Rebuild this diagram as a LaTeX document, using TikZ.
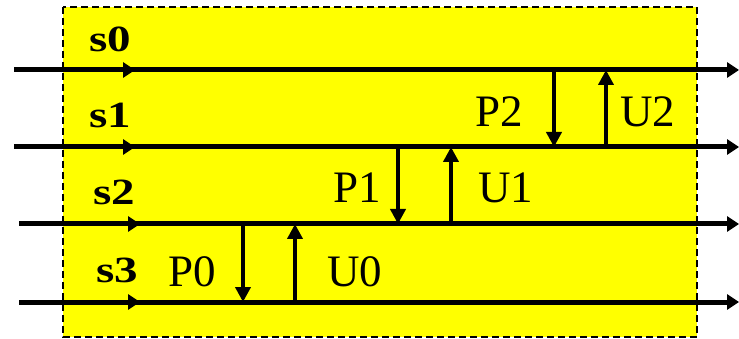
\documentclass[tikz,border=0pt]{standalone}
\usepackage{fontspec}
\setmainfont{Liberation Serif}
\usetikzlibrary{arrows.meta}
\definecolor{panelyellow}{RGB}{255,255,0}
\newcommand{\widelabel}[1]{\scalebox{1.27}[1]{#1}}
\begin{document}
\begin{tikzpicture}[x=1pt,y=-1pt,
  panel/.style={fill=panelyellow,draw=black,line width=1.3pt,dash pattern=on 7pt off 4pt},
  wire/.style={line width=5pt,-{Triangle[length=12pt,width=15pt]}},
  xfer/.style={line width=4pt,-{Triangle[length=15pt,width=15pt]}},
  slabel/.style={anchor=base west,inner sep=0pt,font=\fontsize{37}{42}\selectfont\bfseries},
  oplabel/.style={anchor=base west,inner sep=0pt,font=\fontsize{45}{50}\selectfont}]
\useasboundingbox (0,0) rectangle (739,339);
% shaded stage region
\path[panel] (63,7) rectangle (697,337);
% wire end points and midpoint markers
\foreach \i/\y/\xs/\xm in {0/70/14/135, 1/147/14/135, 2/224/19/140, 3/302/19/140} {
  \coordinate (a\i) at (\xs,\y);
  \coordinate (m\i) at (\xm,\y);
  \coordinate (b\i) at (739,\y);
}
% attachment points of the transfer arrows
\coordinate (p0t) at (243,224); \coordinate (p0b) at (243,302);
\coordinate (u0b) at (295,302); \coordinate (u0t) at (295,224);
\coordinate (p1t) at (398,147); \coordinate (p1b) at (398,224);
\coordinate (u1b) at (451,224); \coordinate (u1t) at (451,147);
\coordinate (p2t) at (554,70);  \coordinate (p2b) at (554,147);
\coordinate (u2b) at (606,147); \coordinate (u2t) at (606,70);
% wires
\foreach \i in {0,1,2,3} {
  \draw[wire] (a\i) -- (b\i);
  \draw[wire] (a\i) -- (m\i);
}
% transfer arrows
\draw[xfer] (p0t) -- (p0b);
\draw[xfer] (u0b) -- (u0t);
\draw[xfer] (p1t) -- (p1b);
\draw[xfer] (u1b) -- (u1t);
\draw[xfer] (p2t) -- (p2b);
\draw[xfer] (u2b) -- (u2t);
% labels
\node[slabel] (s0) at (89,52) {\widelabel{s0}};
\node[slabel] (s1) at (89,128) {\widelabel{s1}};
\node[slabel] (s2) at (93,205) {\widelabel{s2}};
\node[slabel] (s3) at (96,283) {\widelabel{s3}};
\node[oplabel] (P0) at (168,286) {P0};
\node[oplabel] (U0) at (327,287) {U0};
\node[oplabel] (P1) at (333,203) {P1};
\node[oplabel] (U1) at (478,203) {U1};
\node[oplabel] (P2) at (475,127) {P2};
\node[oplabel] (U2) at (620,127) {U2};
\end{tikzpicture}
\end{document}
